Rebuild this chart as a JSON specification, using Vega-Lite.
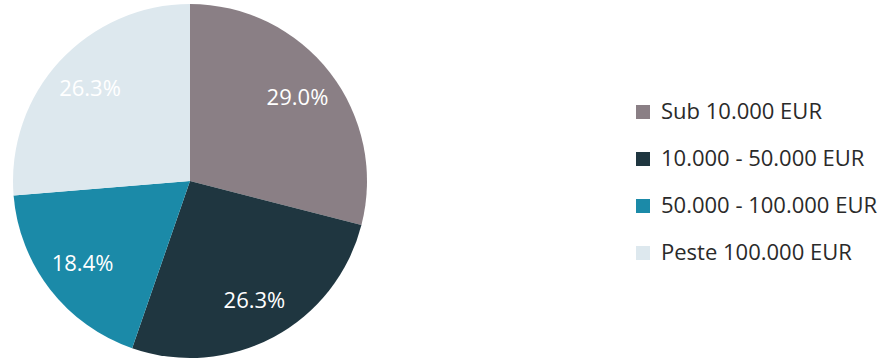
{
  "$schema": "https://vega.github.io/schema/vega-lite/v6.json",
  "width": 380,
  "height": 362,
  "padding": 0,
  "background": "white",
  "config": {"view": {"stroke": null}},
  "data": {
    "values": [
      {"category": "Sub 10.000 EUR", "share": 29.0, "order": 1, "label": "29.0%"},
      {"category": "10.000 - 50.000 EUR", "share": 26.3, "order": 2, "label": "26.3%"},
      {"category": "50.000 - 100.000 EUR", "share": 18.4, "order": 3, "label": "18.4%"},
      {"category": "Peste 100.000 EUR", "share": 26.3, "order": 4, "label": "26.3%"}
    ]
  },
  "encoding": {
    "theta": {"field": "share", "type": "quantitative", "stack": true},
    "order": {"field": "order", "type": "quantitative"},
    "color": {
      "field": "category",
      "type": "nominal",
      "sort": ["Sub 10.000 EUR", "10.000 - 50.000 EUR", "50.000 - 100.000 EUR", "Peste 100.000 EUR"],
      "scale": {
        "domain": ["Sub 10.000 EUR", "10.000 - 50.000 EUR", "50.000 - 100.000 EUR", "Peste 100.000 EUR"],
        "range": ["#8a7f85", "#1f3640", "#1b8aa8", "#dde8ee"]
      },
      "legend": {
        "title": null,
        "orient": "none",
        "legendX": 632,
        "legendY": 101,
        "symbolType": "square",
        "symbolSize": 196,
        "symbolStrokeWidth": 0,
        "labelFont": "Open Sans",
        "labelFontSize": 22,
        "labelColor": "#2a2a2a",
        "labelLimit": 400,
        "rowPadding": 25,
        "labelOffset": 7
      }
    }
  },
  "layer": [
    {"mark": {"type": "arc", "outerRadius": 177}},
    {
      "mark": {"type": "text", "radius": 136, "font": "Open Sans", "fontSize": 22, "color": "white"},
      "encoding": {"text": {"field": "label"}, "color": {"value": "white"}}
    }
  ]
}
